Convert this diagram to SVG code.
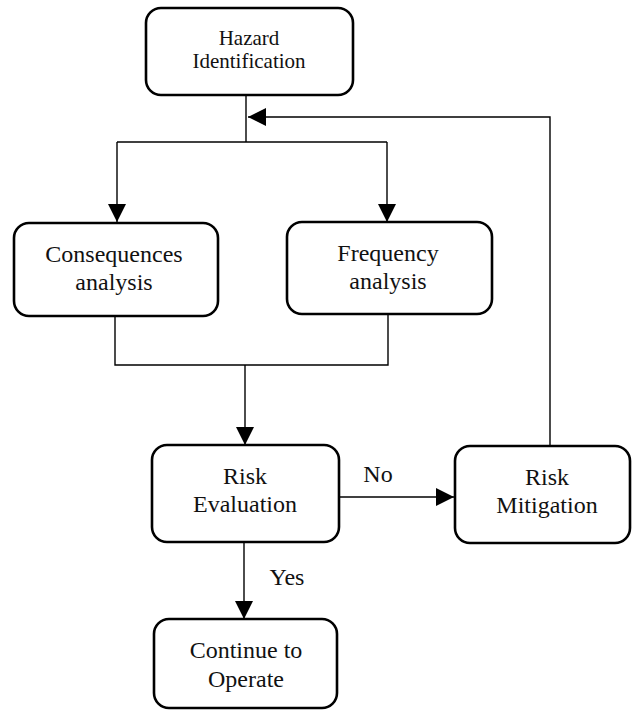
<svg xmlns="http://www.w3.org/2000/svg" width="633" height="713" viewBox="0 0 633 713" font-family="'Liberation Serif', 'DejaVu Serif', serif">
  <style>
    .box { fill: #ffffff; stroke: #000000; stroke-width: 2.6; }
    .lbl { font-size: 24px; fill: #111111; text-anchor: middle; }
    .small { font-size: 21px; }
    .wire { fill: none; stroke: #000000; stroke-width: 1.4; }
  </style>
  <defs>
    <marker id="head" viewBox="0 0 18 18" refX="18" refY="9" markerWidth="18" markerHeight="18" markerUnits="userSpaceOnUse" orient="auto">
      <path d="M0,0 L18,9 L0,18 Z" fill="#000000"/>
    </marker>
  </defs>

  <rect width="633" height="713" fill="#ffffff"/>

  <g id="connectors">
    <!-- split from hazard identification to the two analyses -->
    <path class="wire" d="M246,95 V142"/>
    <path class="wire" d="M117,142 H387"/>
    <path class="wire" d="M117,142 V222" marker-end="url(#head)"/>
    <path class="wire" d="M387,142 V222" marker-end="url(#head)"/>
    <!-- feedback loop from mitigation -->
    <path class="wire" d="M550,446 V117 H248" marker-end="url(#head)"/>
    <!-- merge of analyses into evaluation -->
    <path class="wire" d="M115,316 V365 H388 V314"/>
    <path class="wire" d="M245,365 V445" marker-end="url(#head)"/>
    <!-- decision branches -->
    <path class="wire" d="M339,497 H454" marker-end="url(#head)"/>
    <path class="wire" d="M244,542 V619" marker-end="url(#head)"/>
    <text class="lbl" x="378" y="482">No</text>
    <text class="lbl" x="287" y="585">Yes</text>
  </g>

  <g id="hazard">
    <rect class="box" x="146" y="8" width="207" height="87" rx="15"/>
    <text class="lbl small" x="249" y="45">Hazard</text>
    <text class="lbl small" x="249" y="68">Identification</text>
  </g>

  <g id="consequences">
    <rect class="box" x="14" y="223" width="204" height="93" rx="15"/>
    <text class="lbl" x="114" y="262">Consequences</text>
    <text class="lbl" x="114" y="290">analysis</text>
  </g>

  <g id="frequency">
    <rect class="box" x="287" y="222" width="205" height="92" rx="15"/>
    <text class="lbl" x="388" y="261">Frequency</text>
    <text class="lbl" x="388" y="289">analysis</text>
  </g>

  <g id="evaluation">
    <rect class="box" x="152" y="445" width="187" height="97" rx="15"/>
    <text class="lbl" x="245" y="484">Risk</text>
    <text class="lbl" x="245" y="512">Evaluation</text>
  </g>

  <g id="mitigation">
    <rect class="box" x="455" y="446" width="175" height="97" rx="15"/>
    <text class="lbl" x="547" y="485">Risk</text>
    <text class="lbl" x="547" y="513">Mitigation</text>
  </g>

  <g id="continue">
    <rect class="box" x="154" y="619" width="183" height="89" rx="15"/>
    <text class="lbl" x="246" y="658">Continue to</text>
    <text class="lbl" x="246" y="687">Operate</text>
  </g>
</svg>
